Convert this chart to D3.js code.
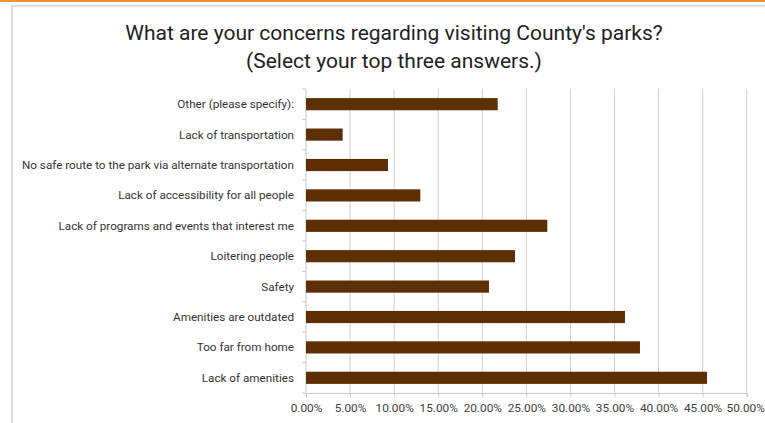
<!DOCTYPE html>
<html><head><meta charset="utf-8">
<script src="https://cdn.jsdelivr.net/npm/d3@7"></script>
<style>body{margin:0;background:#fff;}svg{display:block;}</style>
</head><body>
<script>
const categories = [
  "Other (please specify):",
  "Lack of transportation",
  "No safe route to the park via alternate transportation",
  "Lack of accessibility for all people",
  "Lack of programs and events that interest me",
  "Loitering people",
  "Safety",
  "Amenities are outdated",
  "Too far from home",
  "Lack of amenities"
];
const values = [21.75, 4.16, 9.30, 12.97, 27.38, 23.71, 20.76, 36.19, 37.89, 45.5];
const xTicks = [0,5,10,15,20,25,30,35,40,45,50];
const titleLines = ["What are your concerns regarding visiting County's parks?", "(Select your top three answers.)"];

const W = 765, H = 423;
const svg = d3.select("body").append("svg").attr("width", W).attr("height", H);
const font = "Roboto, 'Liberation Sans', sans-serif";

// frame
svg.append("rect").attr("x",0).attr("y",0).attr("width",W).attr("height",2).attr("fill","#ec8f3c");
svg.append("rect").attr("x",12).attr("y",6).attr("width",W).attr("height",H).attr("fill","none").attr("stroke","#dcdcdc").attr("stroke-width",2);

// title
svg.append("g").selectAll("text").data(titleLines).join("text")
  .attr("x", 394).attr("y",(d,i)=>40+i*28)
  .attr("text-anchor","middle").attr("font-family",font).attr("font-size",21)
  .attr("fill","#222").text(d=>d);

const x0 = 306, x1 = 746.7, y0 = 89, y1 = 393;
const x = d3.scaleLinear().domain([0,50]).range([x0,x1]);
const y = d3.scaleBand().domain(categories).range([y0,y1]).paddingInner(0.6).paddingOuter(0.3);

// gridlines
svg.append("g").selectAll("line").data(xTicks.slice(1)).join("line")
  .attr("x1",d=>x(d)).attr("x2",d=>x(d)).attr("y1",y0).attr("y2",y1)
  .attr("stroke","#d0d0d0").attr("stroke-width",1);

// bottom axis
const xa = svg.append("g").attr("transform",`translate(0,${y1})`)
  .call(d3.axisBottom(x).tickValues(xTicks).tickFormat(d=>d.toFixed(2)+"%").tickSize(4).tickPadding(7));
xa.select(".domain").attr("stroke","#c8c8c8");
xa.selectAll(".tick line").attr("stroke","#c8c8c8");
xa.selectAll("text").attr("font-family",font).attr("font-size",11.8).attr("fill","#404040")
  .attr("dx",d=>d===50?-1.5:0);

// left axis
const yb = d3.scaleLinear().domain([0,categories.length]).range([y0,y1]);
svg.append("line").attr("x1",x0).attr("x2",x0).attr("y1",y0).attr("y2",y1).attr("stroke","#c8c8c8");
svg.append("g").selectAll("line").data(d3.range(categories.length+1)).join("line")
  .attr("x1",x0-4).attr("x2",x0).attr("y1",d=>yb(d)).attr("y2",d=>yb(d)).attr("stroke","#c8c8c8");

// bars
svg.append("g").selectAll("rect").data(categories).join("rect")
  .attr("x",x(0)).attr("y",d=>y(d)).attr("height",y.bandwidth())
  .attr("width",(d,i)=>x(values[i])-x(0)).attr("fill","#5e2e04");

// category labels
svg.append("g").selectAll("text").data(categories).join("text")
  .attr("x",x0-12).attr("y",d=>y(d)+y.bandwidth()/2).attr("dy","0.35em")
  .attr("text-anchor","end").attr("font-family",font).attr("font-size",11.7)
  .attr("fill","#333").text(d=>d);
</script>
</body></html>
